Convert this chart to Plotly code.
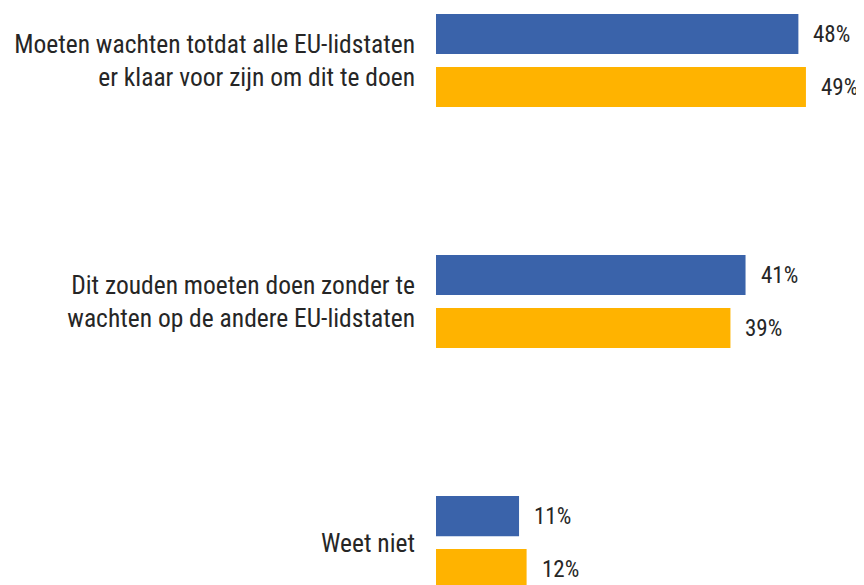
import plotly.graph_objects as go

categories = [
    "Moeten wachten totdat alle EU-lidstaten<br>er klaar voor zijn om dit te doen",
    "Dit zouden moeten doen zonder te<br>wachten op de andere EU-lidstaten",
    "Weet niet",
]
series_a = [48, 41, 11]
series_b = [49, 39, 12]
colors = ["#3A63AA", "#FFB300"]

FONT = "Roboto Condensed, Arial Narrow, sans-serif"

fig = go.Figure()
for vals, col in zip([series_a, series_b], colors):
    fig.add_trace(go.Bar(
        y=list(range(len(categories))), x=vals, orientation="h",
        marker=dict(color=col, line=dict(width=0)),
        hoverinfo="skip",
    ))

annotations = []
for i, vals in enumerate([series_a, series_b]):
    for j, v in enumerate(vals):
        annotations.append(dict(
            x=v, y=j, xref="x", yref="y", text=f"{v}%", showarrow=False,
            xanchor="left", yanchor="middle", xshift=13,
            yshift=26.5 if i == 0 else -26.5,
            font=dict(family=FONT, size=23, color="#262626"),
        ))

fig.update_layout(
    width=864, height=585,
    margin=dict(l=428, r=0, t=0, b=0, autoexpand=False),
    paper_bgcolor="white", plot_bgcolor="white",
    barmode="group", bargap=0.56, bargroupgap=0.245,
    showlegend=False,
    annotations=annotations,
    xaxis=dict(range=[0, 57.75], visible=False, fixedrange=True, automargin=False),
    yaxis=dict(
        range=[2.209, -0.218], tickmode="array",
        tickvals=list(range(len(categories))), ticktext=categories,
        showgrid=False, zeroline=False, showline=False, ticks="",
        ticklabelstandoff=20, automargin=False,
        tickfont=dict(family=FONT, size=25.5, color="#262626"),
    ),
)

fig.write_html("out.html")
